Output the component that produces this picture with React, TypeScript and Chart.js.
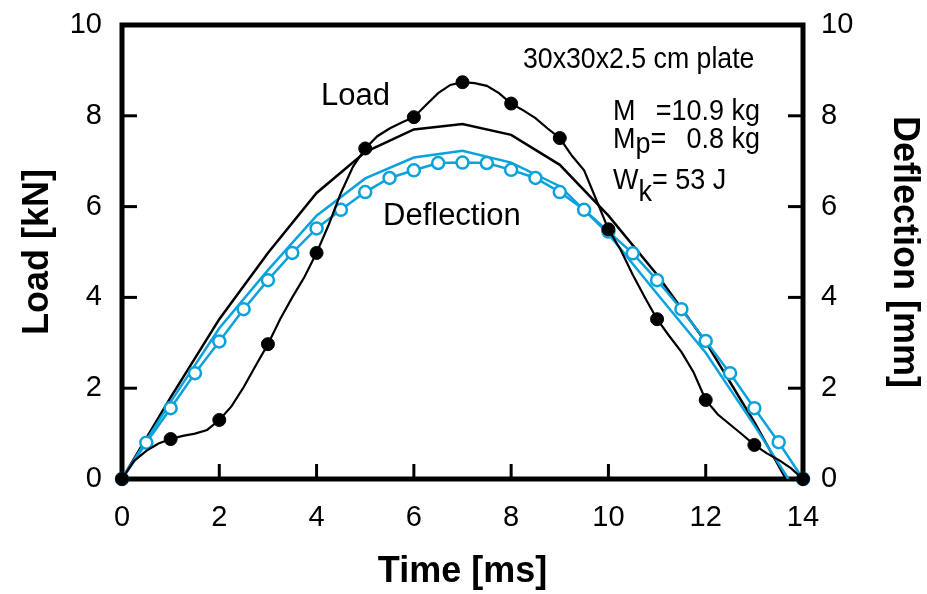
import React, { useEffect, useRef } from "react";
import { Chart, registerables } from "chart.js";

Chart.register(...registerables);

// ---- Data ----
// Measured load trace (time in ms, load in kN); markers at whole milliseconds
const loadTraceTime = [
  0, 0.25, 0.5, 0.75, 1, 1.25, 1.5, 1.75, 2, 2.25, 2.5, 2.75, 3, 3.25, 3.5, 3.75,
  4, 4.25, 4.5, 4.75, 5, 5.25, 5.5, 5.75, 6, 6.25, 6.5, 6.75, 7, 7.25, 7.5, 7.75,
  8, 8.25, 8.5, 8.75, 9, 9.25, 9.5, 9.75, 10, 10.25, 10.5, 10.75, 11, 11.25, 11.5,
  11.75, 12, 12.25, 12.5, 12.75, 13, 13.25, 13.5, 13.75, 14,
];
const loadTraceValue = [
  0, 0.4, 0.62, 0.78, 0.88, 0.95, 1.0, 1.08, 1.3, 1.6, 2.02, 2.5, 2.97, 3.52, 4.0, 4.45,
  4.98, 5.6, 6.3, 6.88, 7.28, 7.55, 7.72, 7.85, 7.97, 8.24, 8.5, 8.68, 8.74, 8.72, 8.66, 8.5,
  8.27, 8.12, 7.95, 7.72, 7.51, 7.12, 6.8, 6.15, 5.5, 5.05, 4.5, 4.0, 3.52, 3.15, 2.8,
  2.35, 1.74, 1.42, 1.2, 0.98, 0.75, 0.57, 0.42, 0.24, 0,
];

// Model load curve
const loadModelTime = [0, 1, 2, 3, 4, 5, 6, 7, 8, 9, 10, 11, 12, 13, 13.65];
const loadModelValue = [0, 1.8, 3.52, 4.98, 6.3, 7.2, 7.7, 7.82, 7.58, 6.92, 5.8, 4.5, 3.02, 1.25, 0];

// Measured deflection (mm), every 0.5 ms
const deflTime = [
  0, 0.5, 1, 1.5, 2, 2.5, 3, 3.5, 4, 4.5, 5, 5.5, 6, 6.5, 7, 7.5, 8, 8.5, 9, 9.5,
  10, 10.5, 11, 11.5, 12, 12.5, 13, 13.5, 14,
];
const deflValue = [
  0, 0.8, 1.56, 2.33, 3.03, 3.74, 4.38, 4.98, 5.52, 5.93, 6.32, 6.63, 6.8, 6.96, 6.97, 6.96,
  6.81, 6.63, 6.32, 5.93, 5.45, 4.97, 4.38, 3.74, 3.04, 2.33, 1.56, 0.81, 0,
];

// Model deflection
const deflModelTime = [0, 1, 2, 3, 4, 5, 6, 7, 8, 9, 10, 11, 12, 13, 13.7];
const deflModelValue = [0, 1.7, 3.32, 4.6, 5.8, 6.62, 7.08, 7.23, 6.97, 6.45, 5.4, 4.08, 2.78, 1.18, 0];

const CYAN = "#0aa2dd";
const FONT = "'Liberation Sans', Arial, Helvetica, sans-serif";

const pts = (xs: number[], ys: number[]) => xs.map((x, i) => ({ x, y: ys[i] }));

const framePlugin = {
  id: "frameTicks",
  beforeDatasetsDraw(chart: any) {
    const { ctx, chartArea: a, scales } = chart;
    ctx.save();
    ctx.strokeStyle = "#000";
    ctx.lineWidth = 3;
    ctx.lineCap = "butt";
    const tl = 15;
    scales.x.ticks.forEach((t: any) => {
      const px = scales.x.getPixelForValue(t.value);
      ctx.beginPath();
      ctx.moveTo(px, a.bottom);
      ctx.lineTo(px, a.bottom - tl);
      ctx.stroke();
    });
    scales.y.ticks.forEach((t: any) => {
      const py = scales.y.getPixelForValue(t.value);
      ctx.beginPath();
      ctx.moveTo(a.left, py);
      ctx.lineTo(a.left + tl, py);
      ctx.stroke();
    });
    scales.y2.ticks.forEach((t: any) => {
      const py = scales.y2.getPixelForValue(t.value);
      ctx.beginPath();
      ctx.moveTo(a.right, py);
      ctx.lineTo(a.right - tl, py);
      ctx.stroke();
    });
    ctx.lineWidth = 5;
    ctx.strokeRect(a.left, a.top, a.right - a.left, a.bottom - a.top);
    ctx.restore();
  },
};

// draws text slightly stretched vertically, as in the reference
const tallText = (ctx: CanvasRenderingContext2D, s: string, x: number, y: number, sy: number) => {
  ctx.save();
  ctx.translate(x, y);
  ctx.scale(1, sy);
  ctx.fillText(s, 0, 0);
  ctx.restore();
};

const notesPlugin = {
  id: "notes",
  afterDraw(chart: any) {
    const ctx = chart.ctx as CanvasRenderingContext2D;
    ctx.save();
    ctx.fillStyle = "#000";
    ctx.textBaseline = "alphabetic";
    ctx.textAlign = "left";
    ctx.font = `31px ${FONT}`;
    ctx.fillText("Load", 321, 105);
    ctx.fillText("Deflection", 383, 225);

    const S = 1.1;
    ctx.font = `26.7px ${FONT}`;
    tallText(ctx, "30x30x2.5 cm plate", 523, 68, S);

    ctx.font = `27px ${FONT}`;
    // M = 10.9 kg
    ctx.textAlign = "left";
    tallText(ctx, "M", 613, 120, S);
    ctx.textAlign = "right";
    tallText(ctx, "=10.9 kg", 760, 120, S);
    // Mp = 0.8 kg
    ctx.textAlign = "left";
    tallText(ctx, "M", 613, 148, S);
    const mW = ctx.measureText("M").width;
    tallText(ctx, "p", 613 + mW, 153, S);
    const pW = ctx.measureText("p").width;
    tallText(ctx, "=", 613 + mW + pW, 148, S);
    ctx.textAlign = "right";
    tallText(ctx, "0.8 kg", 760, 148, S);
    // Wk = 53 J
    ctx.textAlign = "left";
    tallText(ctx, "W", 613, 189, S);
    const wW = ctx.measureText("W").width;
    tallText(ctx, "k", 613 + wW, 201, S);
    const kW = ctx.measureText("k").width;
    tallText(ctx, "= 53 J", 613 + wW + kW, 189, S);
    ctx.restore();
  },
};

export default function App() {
  const ref = useRef<HTMLCanvasElement | null>(null);

  useEffect(() => {
    if (!ref.current) return;
    const tickFont = { family: FONT, size: 29 };
    const titleFont = { family: FONT, size: 36, weight: "bold" as const };
    const chart = new Chart(ref.current, {
      type: "line",
      data: {
        datasets: [
          {
            label: "Load (measured)",
            data: pts(loadTraceTime, loadTraceValue),
            borderColor: "#000",
            borderWidth: 2.2,
            pointRadius: (c: any) => (Number.isInteger(c.raw?.x) ? 6.5 : 0),
            pointBackgroundColor: "#000",
            pointBorderColor: "#000",
            pointBorderWidth: 1,
            tension: 0,
            clip: false as any,
            yAxisID: "y",
          },
          {
            label: "Deflection (measured)",
            data: pts(deflTime, deflValue),
            borderColor: CYAN,
            borderWidth: 2.5,
            pointRadius: 6,
            pointBackgroundColor: "#fff",
            pointBorderColor: CYAN,
            pointBorderWidth: 2.5,
            tension: 0,
            clip: false as any,
            yAxisID: "y2",
          },
          {
            label: "Deflection (model)",
            data: pts(deflModelTime, deflModelValue),
            borderColor: CYAN,
            borderWidth: 2.5,
            pointRadius: 0,
            tension: 0,
            yAxisID: "y2",
          },
          {
            label: "Load (model)",
            data: pts(loadModelTime, loadModelValue),
            borderColor: "#000",
            borderWidth: 2.5,
            pointRadius: 0,
            tension: 0,
            yAxisID: "y",
          },
        ],
      },
      options: {
        responsive: false,
        animation: false,
        devicePixelRatio: 1,
        layout: { padding: { top: 25, left: 0, right: 0, bottom: 0 } },
        plugins: { legend: { display: false }, tooltip: { enabled: false } },
        scales: {
          x: {
            type: "linear",
            min: 0,
            max: 14,
            grid: { display: false, drawTicks: false },
            border: { display: false },
            ticks: { stepSize: 2, font: tickFont, color: "#000", padding: 22 },
            title: { display: true, text: "Time [ms]", font: titleFont, color: "#000", padding: { top: 4, bottom: 0 } },
            afterFit: (s: any) => {
              s.height = 115;
              s.paddingLeft = 0;
              s.paddingRight = 0;
            },
          },
          y: {
            type: "linear",
            position: "left",
            min: 0,
            max: 10,
            grid: { display: false, drawTicks: false },
            border: { display: false },
            ticks: { stepSize: 2, font: tickFont, color: "#000", padding: 20 },
            title: { display: true, text: "Load [kN]", font: titleFont, color: "#000", padding: { top: 16, bottom: 0 } },
            afterFit: (s: any) => {
              s.width = 122;
              s.paddingTop = 0;
              s.paddingBottom = 0;
            },
          },
          y2: {
            type: "linear",
            position: "right",
            min: 0,
            max: 10,
            grid: { display: false, drawTicks: false },
            border: { display: false },
            ticks: { stepSize: 2, font: tickFont, color: "#000", padding: 18 },
            title: { display: true, text: "Deflection [mm]", font: titleFont, color: "#000", padding: { top: 1, bottom: 0 } },
            afterFit: (s: any) => {
              s.width = 124;
              s.paddingTop = 0;
              s.paddingBottom = 0;
            },
          },
        },
      },
      plugins: [framePlugin, notesPlugin],
    });
    return () => chart.destroy();
  }, []);

  return (
    <div style={{ position: "fixed", left: 0, top: 0, width: 927, height: 594, background: "#fff" }}>
      <canvas ref={ref} width={927} height={594} style={{ display: "block" }} />
    </div>
  );
}
